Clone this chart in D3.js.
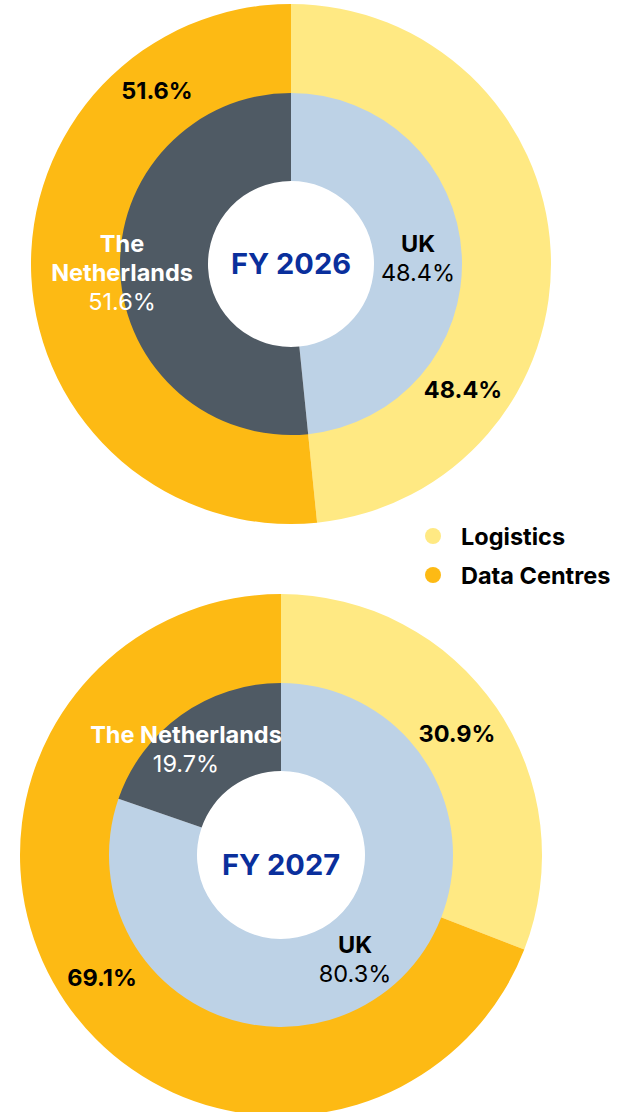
<!DOCTYPE html>
<html>
<head>
<meta charset="utf-8">
<script src="https://cdn.jsdelivr.net/npm/d3@7/dist/d3.min.js"></script>
<style>
  html, body { margin: 0; padding: 0; background: #ffffff; }
  svg { display: block; font-family: Inter, "Noto Sans", sans-serif; }
</style>
</head>
<body>
<svg id="chart" width="633" height="1112"></svg>
<script>
// ---- data ----
const years = ["FY 2026", "FY 2027"];
const sectors = ["Logistics", "Data Centres"];
const countries = ["UK", "The Netherlands"];
const sectorShares2026 = [48.4, 51.6];
const countryShares2026 = [48.4, 51.6];
const sectorShares2027 = [30.9, 69.1];
const countryShares2027 = [80.3, 19.7];

// ---- styles ----
const sectorColor = d3.scaleOrdinal().domain(sectors).range(["#FFE983", "#FDBA14"]);
const countryColor = d3.scaleOrdinal().domain(countries).range(["#BDD2E6", "#4F5A64"]);
const navy = "#0A2F9C";
const labelSize = 23.5;

const svg = d3.select("#chart");

const charts = [
  { year: years[0], sectors: sectorShares2026, countries: countryShares2026,
    cx: 291, cy: 264, R: 260, r1: 171, r0: 83,
    sectorLabels: [{dx: 172, dy: 134}, {dx: -134, dy: -165}],
    countryLabels: [{dx: 127, dy: -12, lines: ["UK"], dark: true},
                    {dx: -169, dy: -12, lines: ["The", "Netherlands"], dark: false}],
    titleDy: 10 },
  { year: years[1], sectors: sectorShares2027, countries: countryShares2027,
    cx: 281, cy: 855, R: 261, r1: 172, r0: 84,
    sectorLabels: [{dx: 176, dy: -113}, {dx: -179, dy: 131}],
    countryLabels: [{dx: 74, dy: 98, lines: ["UK"], dark: true},
                    {dx: -95, dy: -112, lines: ["The Netherlands"], dark: false}],
    titleDy: 20 }
];

const pie = d3.pie().sort(null).value(d => d);

charts.forEach(c => {
  const g = svg.append("g").attr("transform", `translate(${c.cx},${c.cy})`);
  const outerArc = d3.arc().innerRadius(c.r1 - 1).outerRadius(c.R);
  const innerArc = d3.arc().innerRadius(c.r0).outerRadius(c.r1);

  const sArcs = pie(c.sectors);
  g.selectAll("path.sector").data(sArcs).join("path")
    .attr("class", "sector")
    .attr("d", outerArc)
    .attr("fill", (d, i) => sectorColor(sectors[i]));

  const cArcs = pie(c.countries);
  g.selectAll("path.country").data(cArcs).join("path")
    .attr("class", "country")
    .attr("d", innerArc)
    .attr("fill", (d, i) => countryColor(countries[i]));

  // sector % labels
  sArcs.forEach((d, i) => {
    const p = c.sectorLabels[i];
    g.append("text")
      .attr("x", p.dx).attr("y", p.dy)
      .attr("text-anchor", "middle")
      .attr("font-size", labelSize).attr("font-weight", 700)
      .attr("fill", "#000")
      .text(d.data.toFixed(1) + "%");
  });

  // country labels
  cArcs.forEach((d, i) => {
    const p = c.countryLabels[i];
    const col = p.dark ? "#000" : "#fff";
    const t = g.append("text")
      .attr("text-anchor", "middle")
      .attr("fill", col)
      .attr("font-size", labelSize);
    p.lines.forEach((ln, k) => {
      t.append("tspan").attr("x", p.dx).attr("y", p.dy + k * 29)
        .attr("font-weight", 700).text(ln);
    });
    t.append("tspan").attr("x", p.dx).attr("y", p.dy + p.lines.length * 29)
      .attr("font-weight", 400).text(d.data.toFixed(1) + "%");
  });

  g.append("text")
    .attr("x", 0).attr("y", c.titleDy)
    .attr("text-anchor", "middle")
    .attr("font-size", 29).attr("font-weight", 700)
    .attr("fill", navy)
    .text(c.year);
});

// legend
const legend = svg.append("g").attr("transform", "translate(433,536)");
sectors.forEach((s, i) => {
  const row = legend.append("g").attr("transform", `translate(0,${i * 39})`);
  row.append("circle").attr("r", 8).attr("fill", sectorColor(s));
  row.append("text").attr("x", 28).attr("y", 9)
    .attr("font-size", labelSize).attr("font-weight", 700).attr("fill", "#000")
    .text(s);
});
</script>
</body>
</html>
